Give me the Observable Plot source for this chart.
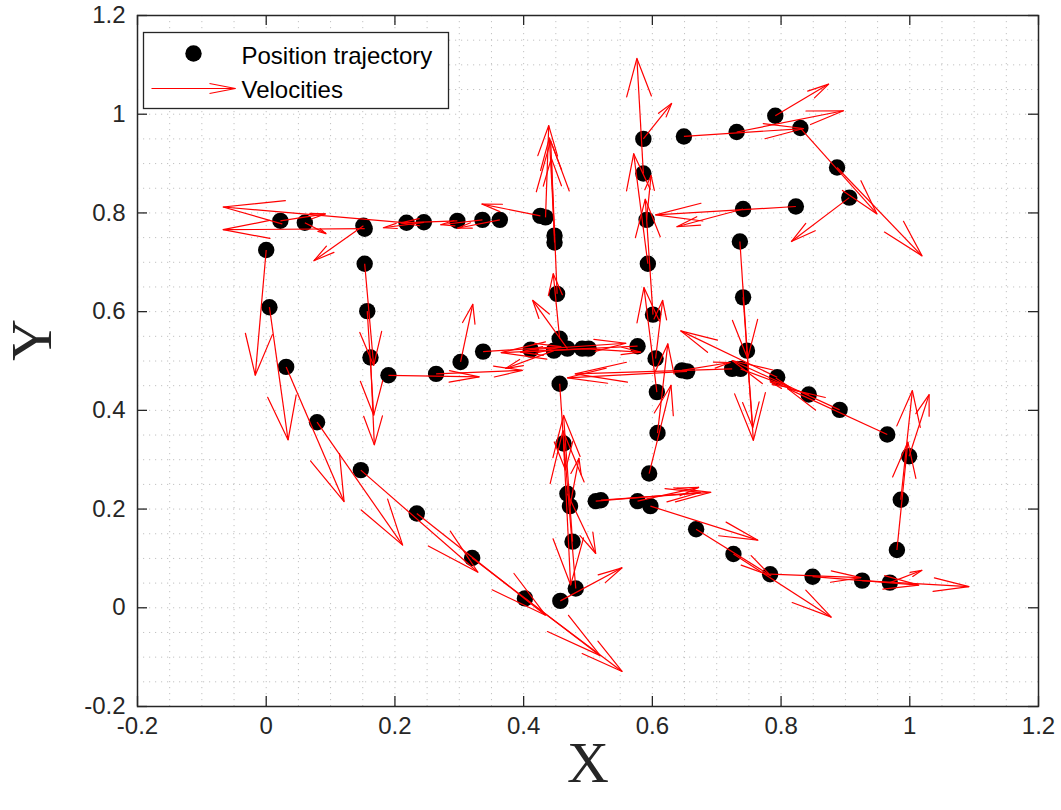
<!DOCTYPE html>
<html>
<head>
<meta charset="utf-8">
<script src="https://cdn.jsdelivr.net/npm/d3@7"></script>
<script src="https://cdn.jsdelivr.net/npm/@observablehq/plot@0.6"></script>
<style>
  html, body { margin: 0; padding: 0; background: #fff; }
  #chart { position: relative; width: 1061px; height: 810px; }
</style>
</head>
<body>
<div id="chart"></div>
<script>
// Sampled positions along the trajectory
const posX = [
  0.000, 0.005, 0.031, 0.079, 0.147, 0.234, 0.320, 0.402, 0.457, 0.481,
  0.476, 0.472, 0.468, 0.462, 0.456, 0.153, 0.157, 0.162, 0.190, 0.264,
  0.302, 0.337, 0.411, 0.447, 0.456, 0.468, 0.491, 0.501, 0.577, 0.452,
  0.448, 0.448, 0.434, 0.426, 0.363, 0.336, 0.297, 0.245, 0.218, 0.153,
  0.151, 0.060, 0.022, 0.586, 0.649, 0.731, 0.791, 0.830, 0.887, 0.906,
  0.823, 0.741, 0.736, 0.741, 0.747, 0.737, 0.724, 0.654, 0.646, 0.794,
  0.843, 0.891, 0.965, 0.999, 0.986, 0.980, 0.969, 0.926, 0.849, 0.783,
  0.726, 0.668, 0.597, 0.577, 0.520, 0.512, 0.595, 0.608, 0.607, 0.605,
  0.601, 0.593, 0.591, 0.586
];
const posY = [
  0.725, 0.609, 0.488, 0.376, 0.279, 0.191, 0.101, 0.019, 0.014, 0.039,
  0.134, 0.206, 0.231, 0.333, 0.454, 0.697, 0.601, 0.507, 0.471, 0.474,
  0.498, 0.519, 0.523, 0.521, 0.545, 0.525, 0.525, 0.525, 0.530, 0.636,
  0.740, 0.754, 0.791, 0.794, 0.786, 0.786, 0.784, 0.781, 0.780, 0.768,
  0.774, 0.780, 0.784, 0.950, 0.955, 0.964, 0.997, 0.972, 0.892, 0.831,
  0.813, 0.808, 0.742, 0.629, 0.521, 0.484, 0.484, 0.479, 0.481, 0.467,
  0.432, 0.401, 0.351, 0.307, 0.219, 0.117, 0.051, 0.055, 0.063, 0.068,
  0.109, 0.159, 0.206, 0.216, 0.218, 0.216, 0.272, 0.354, 0.437, 0.505,
  0.594, 0.697, 0.786, 0.880
];
// Velocity vector at each sample (drawn length, in axis units)
const velU = [
  -0.017, 0.029, 0.090, 0.133, 0.182, 0.200, 0.199, 0.151, 0.096, -0.020,
  -0.014, 0.014, 0.044, 0.011, 0.009, 0.014, 0.010, 0.006, 0.141, 0.134,
  0.019, 0.121, 0.148, -0.075, -0.010, -0.054, 0.091, -0.106, -0.212, -0.010,
  -0.005, -0.008, 0.005, -0.091, -0.066, -0.065, -0.088, -0.063, -0.285, -0.220,
  -0.077, 0.033, 0.070, 0.044, 0.186, 0.166, 0.083, 0.119, 0.132, -0.090,
  -0.218, -0.103, 0.012, 0.016, 0.009, 0.078, -0.244, -0.186, 0.075, -0.150,
  -0.060, -0.167, -0.155, 0.031, 0.018, 0.017, 0.050, 0.166, 0.165, 0.141,
  0.152, 0.116, 0.167, 0.095, 0.171, 0.163, 0.034, 0.016, -0.020, 0.011,
  -0.012, -0.022, 0.007, -0.010
];
const velV = [
  -0.254, -0.269, -0.273, -0.249, -0.207, -0.206, -0.198, -0.148, 0.067, 0.320,
  0.256, 0.097, -0.121, -0.287, -0.175, -0.206, -0.211, -0.177, -0.003, 0.007,
  0.117, 0.010, 0.013, -0.036, 0.132, 0.098, -0.007, -0.007, -0.013, 0.310,
  0.171, 0.198, 0.186, 0.024, -0.017, -0.010, -0.004, -0.011, 0.032, -0.002,
  -0.071, -0.022, 0.014, 0.072, 0.016, 0.043, 0.064, -0.174, -0.179, -0.089,
  -0.017, -0.036, -0.237, -0.290, -0.156, -0.038, -0.010, -0.013, 0.016, 0.094,
  0.026, 0.100, 0.093, 0.125, 0.221, 0.219, 0.025, -0.012, -0.017, -0.007,
  -0.128, -0.094, -0.069, 0.028, 0.016, 0.018, 0.179, 0.181, 0.212, 0.118,
  0.234, 0.223, 0.090, 0.233
];

const xTicks = [-0.2, 0, 0.2, 0.4, 0.6, 0.8, 1, 1.2];
const xTickLabels = ["-0.2", "0", "0.2", "0.4", "0.6", "0.8", "1", "1.2"];
const yTicks = [-0.2, 0, 0.2, 0.4, 0.6, 0.8, 1, 1.2];
const yTickLabels = ["-0.2", "0", "0.2", "0.4", "0.6", "0.8", "1", "1.2"];
const gridStep = 0.05;
const seriesNames = ["Position trajectory", "Velocities"];

// Layout
const W = 1061, H = 810;
const mL = 137, mR = 23, mT = 15, mB = 104;
const plotW = W - mL - mR, plotH = H - mT - mB;
const tickLen = 10;
const axisColor = "#262626";

const points = posX.map((x, i) => ({x, y: posY[i], u: velU[i], v: velV[i]}));

// Arrow heads in the classic quiver style: size relative to the vector
const alpha = 0.33, beta = 0.25;
const heads = points.flatMap((d, i) => {
  const tx = d.x + d.u, ty = d.y + d.v;
  return [
    {i, x: tx - alpha * (d.u + beta * d.v), y: ty - alpha * (d.v - beta * d.u)},
    {i, x: tx, y: ty},
    {i, x: tx - alpha * (d.u - beta * d.v), y: ty - alpha * (d.v + beta * d.u)}
  ];
});

const gridX = d3.range(Math.round((1.2 + 0.2) / gridStep) + 1).map(k => +(-0.2 + k * gridStep).toFixed(2));
const gridY = gridX.slice();

const fmt = (ticks, labels) => d => labels[ticks.findIndex(t => Math.abs(t - d) < 1e-9)];

const chart = Plot.plot({
  width: W,
  height: H,
  marginLeft: mL,
  marginRight: mR,
  marginTop: mT,
  marginBottom: mB,
  x: {domain: [-0.2, 1.2]},
  y: {domain: [-0.2, 1.2]},
  style: {
    fontFamily: "'Liberation Sans', Arial, Helvetica, sans-serif",
    fontSize: "24px",
    color: axisColor,
    background: "#fff",
    overflow: "visible"
  },
  marks: [
    // dotted grid
    Plot.ruleX(gridX, {x: d => d, stroke: "#c2c2c2", strokeWidth: 1, strokeDasharray: "1.2,4.8"}),
    Plot.ruleY(gridY, {y: d => d, stroke: "#c2c2c2", strokeWidth: 1, strokeDasharray: "1.2,4.8"}),
    // positions
    Plot.dot(points, {x: "x", y: "y", r: 8.2, fill: "#000", stroke: "none"}),
    // velocity shafts and heads
    Plot.link(points, {x1: "x", y1: "y", x2: d => d.x + d.u, y2: d => d.y + d.v, stroke: "#ff0000", strokeWidth: 1.2}),
    Plot.line(heads, {x: "x", y: "y", z: "i", stroke: "#ff0000", strokeWidth: 1.2, curve: "linear"}),
    // inward tick marks on all four sides
    Plot.ruleX(xTicks, {x: d => d, insetTop: plotH - tickLen, stroke: axisColor, strokeWidth: 1.3}),
    Plot.ruleX(xTicks, {x: d => d, insetBottom: plotH - tickLen, stroke: axisColor, strokeWidth: 1.3}),
    Plot.ruleY(yTicks, {y: d => d, insetRight: plotW - tickLen, stroke: axisColor, strokeWidth: 1.3}),
    Plot.ruleY(yTicks, {y: d => d, insetLeft: plotW - tickLen, stroke: axisColor, strokeWidth: 1.3}),
    Plot.frame({stroke: axisColor, strokeWidth: 1.5}),
    Plot.axisX(xTicks, {tickSize: 0, tickPadding: 10, tickFormat: fmt(xTicks, xTickLabels), label: null}),
    Plot.axisY(yTicks, {tickSize: 0, tickPadding: 12, tickFormat: fmt(yTicks, yTickLabels), label: null}),
    // axis titles
    Plot.text(["X"], {frameAnchor: "bottom", dy: 75, text: d => d, fontSize: 58,
      fontFamily: "'Liberation Serif', 'Times New Roman', serif", fill: axisColor}),
    Plot.text(["Y"], {frameAnchor: "left", dx: -105, rotate: -90, text: d => d, fontSize: 58,
      fontFamily: "'Liberation Serif', 'Times New Roman', serif", fill: axisColor})
  ]
});

document.getElementById("chart").appendChild(chart);

// Legend box in the upper-left corner of the axes
const svg = d3.select(chart);
const lg = svg.append("g").attr("transform", "translate(143.5,32.5)")
  .attr("text-anchor", "start");
lg.append("rect").attr("width", 305).attr("height", 76)
  .attr("fill", "#fff").attr("stroke", axisColor).attr("stroke-width", 1.3);
lg.append("circle").attr("cx", 50).attr("cy", 21).attr("r", 8.2).attr("fill", "#000");
lg.append("text").attr("x", 98).attr("y", 31).attr("font-size", 24).attr("fill", "#000")
  .attr("text-anchor", "start").text(seriesNames[0]);
const ay = 56;
lg.append("line").attr("x1", 8).attr("y1", ay).attr("x2", 92).attr("y2", ay)
  .attr("stroke", "#ff0000").attr("stroke-width", 1.2);
lg.append("polyline").attr("points", `66,${ay - 5} 92,${ay} 66,${ay + 5}`)
  .attr("fill", "none").attr("stroke", "#ff0000").attr("stroke-width", 1.2);
lg.append("text").attr("x", 98).attr("y", 65).attr("font-size", 24).attr("fill", "#000")
  .attr("text-anchor", "start").text(seriesNames[1]);
</script>
</body>
</html>
